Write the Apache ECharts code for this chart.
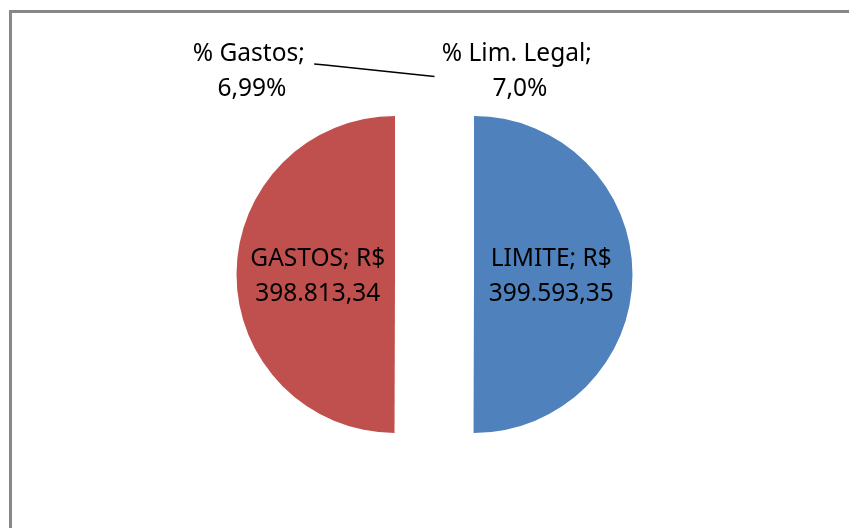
<!DOCTYPE html>
<html>
<head>
<meta charset="utf-8">
<script src="https://cdn.jsdelivr.net/npm/echarts@6/dist/echarts.min.js"></script>
<style>
  html, body { margin: 0; padding: 0; background: #fff; }
  #chart { width: 849px; height: 528px; }
</style>
</head>
<body>
<div id="chart"></div>
<script>
// dados da planilha (fatias na ordem do Excel, sentido horário a partir do topo)
const nomes = ['LIMITE', 'GASTOS', '% Gastos', '% Lim. Legal']
const valores = [399593.35, 398813.34, 0.0699, 0.07]
const formatos = ['brl', 'brl', 'pct2', 'pct1']
const cores = ['#4F81BD', '#C0504D', '#9BBB59', '#8064A2']

const fmtBR = (v, casas) => {
  const partes = v.toFixed(casas).split('.')
  partes[0] = partes[0].replace(/\B(?=(\d{3})+(?!\d))/g, '.')
  return partes.join(',')
}

const textoValor = (i) => {
  const v = valores[i]
  if (formatos[i] === 'brl') return 'R$}\n{t|' + fmtBR(v, 2)
  if (formatos[i] === 'pct2') return '}\n{t|' + fmtBR(v * 100, 2) + '%'
  return '}\n{t|' + fmtBR(v * 100, 1) + '%'
}

const centro = [434.5, 274.5]
const explosao = 39.5

// centro desejado dos rótulos das fatias pequenas (fatias no topo da pizza)
const posRotulo = {
  2: { x: 252, y: 72, linha: true },
  3: { x: 520, y: 72, linha: false }
}

const chart = echarts.init(document.getElementById('chart'))

const fonte = {
  fontFamily: 'Noto Sans',
  fontSize: 24.5,
  lineHeight: 35,
  color: '#000'
}

chart.setOption({
  animation: false,
  graphic: [
    {
      type: 'rect',
      shape: { x: 10.5, y: 11.5, width: 900, height: 600 },
      style: { fill: 'none', stroke: '#888', lineWidth: 3 }
    }
  ],
  series: [
    {
      type: 'pie',
      center: centro,
      radius: 158.5,
      startAngle: 90,
      clockwise: true,
      selectedMode: 'multiple',
      selectedOffset: explosao,
      avoidLabelOverlap: false,
      emphasis: { scale: false },
      itemStyle: { borderWidth: 0 },
      labelLine: {
        length: 10,
        length2: 10,
        lineStyle: { color: '#000', width: 1.6 }
      },
      labelLayout: (params) => {
        const p = posRotulo[params.dataIndex]
        const r = params.labelRect
        if (!p) {
          // rótulos internos um pouco mais perto do vão central
          const esquerda = r.x + r.width / 2 < centro[0]
          return { dx: esquerda ? 5 : -5, dy: 2 }
        }
        // labelRect vem sem o deslocamento da fatia explodida (para cima)
        const cy = p.y + explosao
        const out = {
          dx: p.x - (r.x + r.width / 2),
          dy: cy - (r.y + r.height / 2)
        }
        if (p.linha && params.labelLinePoints) {
          const ponta = params.labelLinePoints[0]
          const dir = p.x + r.width / 2
          const yl = cy - 8
          out.labelLinePoints = [ponta, [dir + 14, yl + 1], [dir + 3, yl]]
        }
        return out
      },
      data: nomes.map((n, i) => ({
        name: n,
        value: valores[i],
        selected: true,
        itemStyle: { color: cores[i] },
        label: Object.assign({
          show: true,
          position: posRotulo[i] ? 'outside' : 'inside',
          formatter: '{t|' + n + '; ' + textoValor(i) + '}',
          rich: { t: Object.assign({ align: 'center' }, fonte) }
        }, fonte),
        labelLine: { show: !!(posRotulo[i] && posRotulo[i].linha) }
      }))
    }
  ]
})
</script>
</body>
</html>
